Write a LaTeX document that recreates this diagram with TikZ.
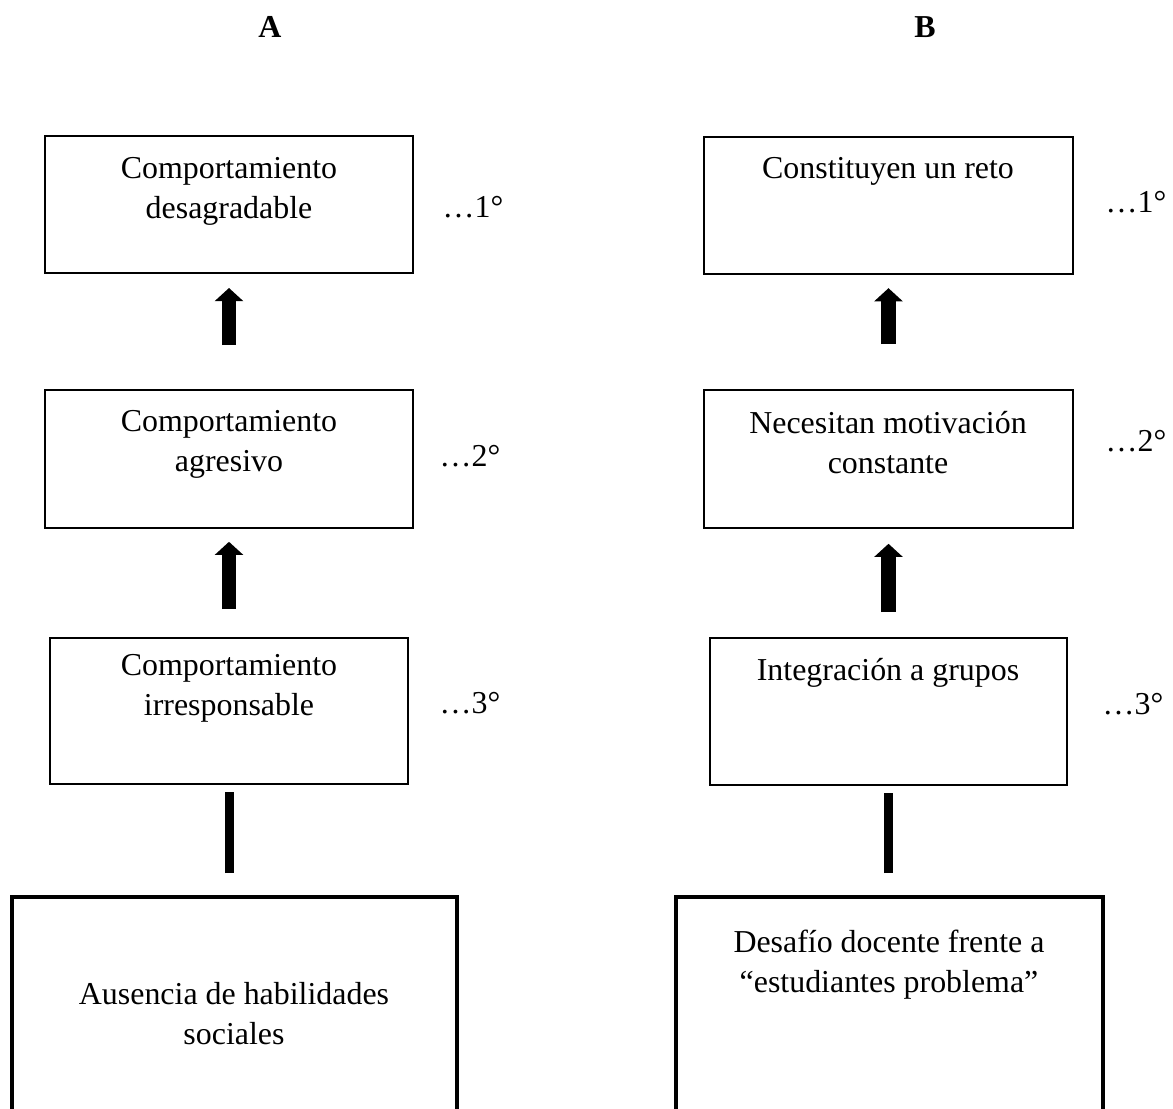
\documentclass[tikz,border=0pt]{standalone}
\usepackage{fontspec}
\setmainfont{Liberation Serif}
\usetikzlibrary{arrows.meta,fit}
\begin{document}
\begin{tikzpicture}[x=0.25mm, y=-0.25mm, font=\fontsize{22.7}{28.5}\selectfont, line join=miter,
    box/.style={draw, line width=1.4pt, inner sep=0pt},
    basebox/.style={draw, line width=2.8pt, inner sep=0pt},
    txt/.style={align=center, inner sep=0pt},
    upar/.style={line width=10pt, -{Triangle[width=7mm, length=3.3mm]}},
    bar/.style={line width=6.4pt, line cap=butt}]
  \useasboundingbox (0,0) rectangle (1173,1108);
  % column A
  \node[font=\fontsize{22.7}{28.5}\selectfont\bfseries] (ha) at (270,27) {A};
  \node[box, fit={(45,136) (413,273)}] (a1) {};
  \node[box, fit={(45,390) (413,528)}] (a2) {};
  \node[box, fit={(50,638) (408,784)}] (a3) {};
  \node[basebox, fit={(12,897) (457,1130)}] (a4) {};
  \node[txt] (a1t) at (229,191) {Comportamiento\\desagradable};
  \node[txt] (a2t) at (229,444) {Comportamiento\\agresivo};
  \node[txt] (a3t) at (229,688) {Comportamiento\\irresponsable};
  \node[txt] (a4t) at (234,1014) {Ausencia de habilidades\\sociales};
  \node (a1n) at (473,207) {…1°};
  \node (a2n) at (470,456) {…2°};
  \node (a3n) at (470,703) {…3°};
  \draw[upar, shorten <=11mm, shorten >=3.5mm] (a2.north) -- (a1.south);
  \draw[upar, shorten <=7mm, shorten >=3.2mm] (a3.north) -- (a2.south);
  \draw[bar, shorten <=5.5mm, shorten >=1.8mm] (a4.north -| a3.south) -- (a3.south);
  % column B
  \node[font=\fontsize{22.7}{28.5}\selectfont\bfseries] (hb) at (925,27) {B};
  \node[box, fit={(704,137) (1073,274)}] (b1) {};
  \node[box, fit={(704,390) (1073,528)}] (b2) {};
  \node[box, fit={(710,638) (1067,785)}] (b3) {};
  \node[basebox, fit={(676,897) (1103,1130)}] (b4) {};
  \node[txt] (b1t) at (888,171) {Constituyen un reto};
  \node[txt] (b2t) at (888,443) {Necesitan motivación\\constante};
  \node[txt] (b3t) at (888,673) {Integración a grupos};
  \node[txt] (b4t) at (889,965) {Desafío docente frente a\\“estudiantes problema”};
  \node (b1n) at (1136,202) {…1°};
  \node (b2n) at (1136,441) {…2°};
  \node (b3n) at (1133,704) {…3°};
  \draw[upar, shorten <=11.2mm, shorten >=3.3mm] (b2.north) -- (b1.south);
  \draw[upar, shorten <=6.2mm, shorten >=3.7mm] (b3.north) -- (b2.south);
  \draw[bar, shorten <=5.5mm, shorten >=1.8mm] (b4.north -| b3.south) -- (b3.south);
\end{tikzpicture}
\end{document}
